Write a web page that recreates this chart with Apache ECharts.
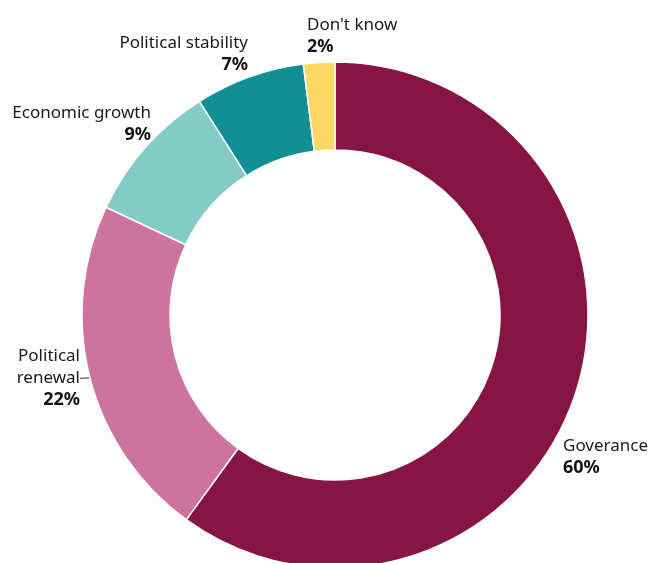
<!DOCTYPE html>
<html>
<head>
<meta charset="utf-8">
<script src="https://cdn.jsdelivr.net/npm/echarts@6/dist/echarts.min.js"></script>
<style>
  html, body { margin: 0; padding: 0; background: #ffffff; }
  #chart { width: 650px; height: 563px; }
</style>
</head>
<body>
<div id="chart"></div>
<script>
// Survey answers, in clockwise order from twelve o'clock
var categories = ['Goverance', 'Political renewal', 'Economic growth', 'Political stability', "Don't know"];
var shares = [60, 22, 9, 7, 2];
// Text shown for each category (line breaks as printed)
var labelNames = ['Goverance', 'Political\nrenewal', 'Economic growth', 'Political stability', "Don't know"];

var colors = ['#861543', '#cc739e', '#84cbc7', '#128f94', '#fdd663'];

// Where each label block sits: anchor x, vertical centre y, alignment, leader line
var labelSpots = [
  { x: 563, y: 457, align: 'left', line: false },
  { x: 84, y: 378, align: 'right', line: true },
  { x: 151, y: 124, align: 'right', line: false },
  { x: 248, y: 54, align: 'right', line: false },
  { x: 307, y: 36, align: 'left', line: false }
];

var chart = echarts.init(document.getElementById('chart'), null, { renderer: 'canvas' });

var seriesData = categories.map(function (name, i) {
  var s = labelSpots[i];
  var a = s.align;
  return {
    name: name,
    value: shares[i],
    itemStyle: { color: colors[i] },
    label: {
      align: a,
      padding: s.line ? [0, 4, 0, 0] : 0,
      rich: {
        n: { fontFamily: 'Noto Sans', fontSize: 17, color: '#1a1a1a', lineHeight: 21.5, align: a },
        p: { fontFamily: 'Noto Sans', fontSize: 18, fontWeight: 'bold', color: '#111111', lineHeight: 21.5, align: a }
      }
    },
    labelLine: {
      show: s.line,
      length: 1,
      length2: 3,
      lineStyle: { color: '#333333', width: 1 }
    }
  };
});

chart.setOption({
  animation: false,
  backgroundColor: '#ffffff',
  series: [{
    type: 'pie',
    center: [335, 315],
    radius: [165, 253],
    startAngle: 90,
    clockwise: true,
    avoidLabelOverlap: false,
    itemStyle: { borderColor: '#ffffff', borderWidth: 1.5 },
    emphasis: { disabled: true },
    label: {
      show: true,
      position: 'outside',
      formatter: function (p) {
        var lines = labelNames[p.dataIndex].split('\n').map(function (l) { return '{n|' + l + '}'; });
        lines.push('{p|' + p.value + '%}');
        return lines.join('\n');
      }
    },
    labelLayout: function (params) {
      var s = labelSpots[params.dataIndex];
      return { x: s.x, y: s.y, align: s.align, verticalAlign: 'middle' };
    },
    data: seriesData
  }]
});
</script>
</body>
</html>
